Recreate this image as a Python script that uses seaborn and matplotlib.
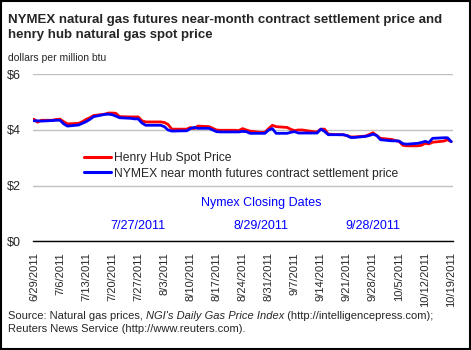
import numpy as np
import pandas as pd
import matplotlib
matplotlib.use('Agg')
import matplotlib.pyplot as plt
import seaborn as sns
from matplotlib.patches import Rectangle

# 数据: 交易日 6/29/2011 - 10/19/2011
dates = pd.bdate_range('2011-06-29', '2011-10-19')

henry_hub = [4.39, 4.28, 4.35, 4.35, 4.38, 4.39, 4.30, 4.22, 4.24, 4.30,
             4.38, 4.44, 4.52, 4.57, 4.61, 4.61, 4.60, 4.48, 4.47, 4.47,
             4.47, 4.33, 4.29, 4.29, 4.29, 4.27, 4.20, 4.03, 4.03, 4.03,
             4.09, 4.05, 4.14, 4.12, 4.06, 4.00, 3.99, 3.99, 3.99, 3.98,
             4.05, 4.00, 3.96, 3.91, 3.92, 4.05, 4.17, 4.12, 4.09, 4.02,
             3.98, 4.00, 4.00, 3.94, 3.93, 4.03, 4.03, 3.85, 3.83, 3.83,
             3.80, 3.75, 3.75, 3.78, 3.84, 3.90, 3.80, 3.70, 3.66, 3.62,
             3.59, 3.45, 3.43, 3.43, 3.45, 3.52, 3.50, 3.56, 3.60, 3.65,
             3.58]

nymex = [4.33, 4.33, 4.32, 4.34, 4.35, 4.35, 4.22, 4.14, 4.18, 4.24,
         4.30, 4.38, 4.48, 4.56, 4.57, 4.55, 4.50, 4.44, 4.42, 4.40,
         4.40, 4.25, 4.17, 4.17, 4.17, 4.12, 4.00, 3.96, 3.97, 3.97,
         4.05, 4.09, 4.06, 4.06, 4.00, 3.94, 3.93, 3.93, 3.93, 3.93,
         3.95, 3.94, 3.88, 3.88, 3.88, 4.00, 4.05, 3.88, 3.88, 3.92,
         3.94, 3.89, 3.89, 3.89, 3.89, 4.03, 3.95, 3.83, 3.83, 3.83,
         3.80, 3.73, 3.73, 3.77, 3.80, 3.85, 3.80, 3.65, 3.61, 3.61,
         3.60, 3.51, 3.49, 3.52, 3.55, 3.59, 3.55, 3.70, 3.72, 3.72,
         3.58]

closing_dates = ['2011-07-27', '2011-08-29', '2011-09-28']
yticks = [0, 2, 4, 6]

df = pd.DataFrame({'date': list(dates) * 2,
                   'price': henry_hub + nymex,
                   'series': ['Henry Hub Spot Price'] * len(dates)
                             + ['NYMEX near month futures contract settlement price'] * len(dates)})

sns.set_style('white')
plt.rcParams['font.family'] = ['Liberation Sans', 'DejaVu Sans']

fig = plt.figure(figsize=(4.71, 3.5), dpi=100)
ax = fig.add_axes([0.070, 0.311, 0.892, 0.478])

sns.lineplot(data=df, x='date', y='price', hue='series',
             palette=['#ff0000', '#0000ff'], linewidth=2.0, ax=ax)

ax.set_ylim(0, 6.02)
ax.set_xlim(pd.Timestamp('2011-06-29') - pd.Timedelta(hours=6), pd.Timestamp('2011-10-19') + pd.Timedelta(hours=12))
ax.set_yticks(yticks)
ax.set_yticklabels([f'${v}' for v in yticks], fontsize=9)
ax.yaxis.grid(True, color='#c0c0c0', linewidth=1)
ax.tick_params(axis='y', length=0, pad=9)

weeks = pd.date_range('2011-06-29', '2011-10-19', freq='7D')
ax.set_xticks(weeks)
ax.set_xticklabels([f'{d.month}/{d.day}/{d.year}' for d in weeks], rotation=90, fontsize=8)
ax.tick_params(axis='x', direction='out', length=5, width=1, color='black', pad=3)
ax.set_xlabel('')
ax.set_ylabel('')

for s in ['left', 'right', 'top']:
    ax.spines[s].set_visible(False)
ax.spines['bottom'].set_color('black')
ax.spines['bottom'].set_linewidth(1)

leg = ax.legend(loc='center left', bbox_to_anchor=(0.11, 0.45), frameon=False,
                fontsize=8.7, handlelength=2.2, handletextpad=0.25, labelspacing=0.3,
                borderaxespad=0)
for line in leg.get_lines():
    line.set_linewidth(2.2)

ax.text(pd.Timestamp('2011-08-29'), 1.37, 'Nymex Closing Dates', color='#0000ff',
        fontsize=9, ha='center', va='center')
for d in closing_dates:
    t = pd.Timestamp(d)
    ax.text(t, 0.54, f'{t.month}/{t.day}/{t.year}', color='#0000ff',
            fontsize=9, ha='center', va='center')

fig.text(0.017, 0.922, 'NYMEX natural gas futures near-month contract settlement price and\nhenry hub natural gas spot price',
         fontsize=9.5, fontweight='bold', ha='left', va='center', linespacing=1.3)
fig.text(0.017, 0.834, 'dollars per million btu', fontsize=7.5, ha='left', va='center')

src1 = fig.text(0.017, 0.097, "Source: Natural gas prices, ", fontsize=8, ha='left', va='center')
src2 = fig.text(0.2, 0.097, "NGI's Daily Gas Price Index", fontsize=8, style='italic', ha='left', va='center')
fig.canvas.draw()
bb = src1.get_window_extent()
src2.set_x(bb.x1 / fig.bbox.width)
fig.canvas.draw()
bb2 = src2.get_window_extent()
fig.text(bb2.x1 / fig.bbox.width, 0.097, ' (http://intelligencepress.com);', fontsize=8, ha='left', va='center')
fig.text(0.017, 0.06, 'Reuters News Service (http://www.reuters.com).', fontsize=8, ha='left', va='center')

fig.patches.append(Rectangle((0.002, 0.003), 0.995, 0.994, transform=fig.transFigure,
                             fill=False, edgecolor='black', linewidth=1.5))

plt.savefig('out.png', dpi=100)
